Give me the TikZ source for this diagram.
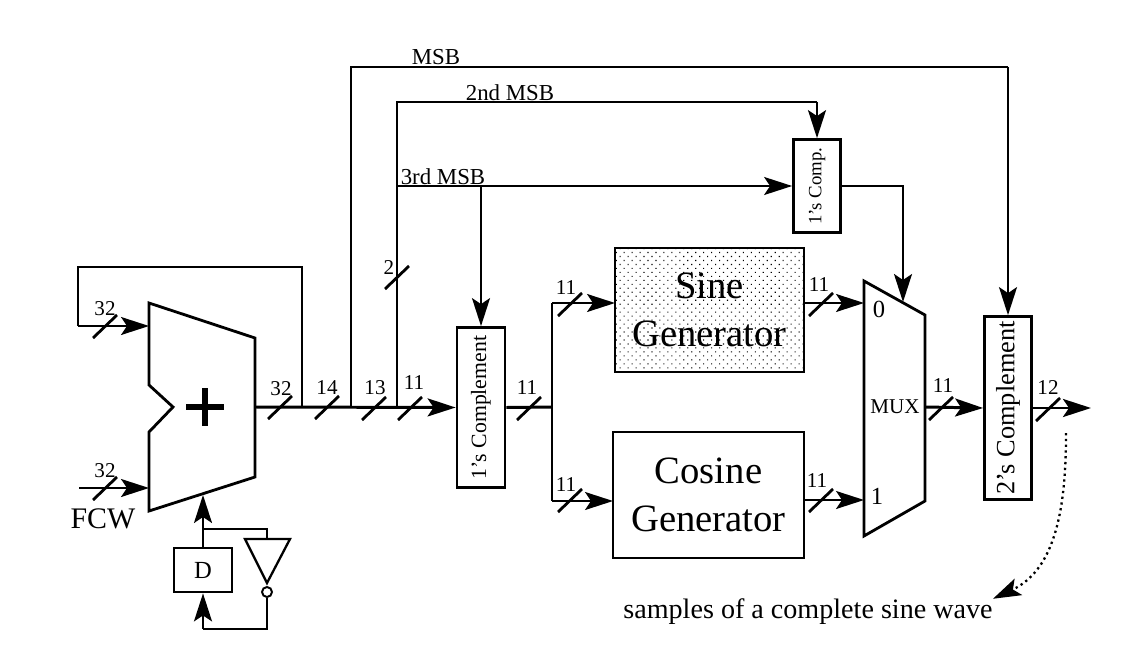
\documentclass[tikz,border=0pt]{standalone}
\usepackage{fontspec}
\setmainfont{Liberation Serif}
\usetikzlibrary{arrows.meta,positioning,patterns.meta}

\begin{document}
\begin{tikzpicture}[
  x=0.02cm, y=-0.02cm,
  box/.style={draw, line width=1.6pt, inner sep=0pt, align=center},
  wire/.style={line width=1.25pt},
  bus/.style={line width=1.7pt},
  width/.style={inner sep=0pt, font=\fontsize{12}{14}\selectfont},
  tag/.style={inner sep=0pt, font=\fontsize{13}{15}\selectfont},
  busmark/.pic={\draw[line width=1.6pt] (-12,12) -- (12,-11);},
  >={Stealth[length=5.6mm, width=3.6mm, inset=1.2mm]}]
\useasboundingbox (0,0) rectangle (1145,662);
% blocks
\draw[box] (149,303) -- (255,338) -- (255,477) -- (149,511) -- (149,432) -- (173,407) -- (149,385) -- cycle;
\draw[box] (864,281) -- (925,315) -- (925,501) -- (864,536) -- cycle;
\draw[line width=3pt] (186,407) -- (224,407);
\draw[line width=3pt] (205,388) -- (205,426);
\node[box, minimum width=0.96cm, minimum height=3.2cm] (onescomp) at (481,407.5) {\fontsize{12.4}{14}\selectfont\rotatebox{90}{1's Complement}};
\node[box, minimum width=0.94cm, minimum height=1.86cm] (onescmp) at (817,186) {\fontsize{10.7}{12}\selectfont\rotatebox{90}{1's Comp.}};
\node[box, minimum width=0.94cm, minimum height=3.66cm] (twoscomp) at (1008,408) {\fontsize{15}{17}\selectfont\rotatebox{90}{2's Complement}};
\node[box, minimum width=3.78cm, minimum height=2.48cm, pattern={Dots[radius=0.45pt, distance=3.2pt, angle=45]}, pattern color=black] (sinebg) at (709.5,310) {};
\node[align=center, inner sep=0pt, font=\fontsize{22}{27}\selectfont] (sine) at (sinebg) {Sine\\Generator};
\node[box, minimum width=3.82cm, minimum height=2.52cm, font=\fontsize{22}{27}\selectfont] (cosine) at (708.5,495) {Cosine\\Generator};
\node[box, minimum width=1.16cm, minimum height=0.88cm, font=\fontsize{14}{16}\selectfont] (dff) at (203,570) {D};
\draw[box, line width=1.3pt] (245,539) -- (290,539) -- (267,583) -- cycle;
\node[draw, circle, line width=1.1pt, minimum size=0.2cm, inner sep=0pt] (bubble) at (267,592) {};
% junctions
\coordinate (addout) at (255,407);
\coordinate (fbtap) at (302,407);
\coordinate (msbtap) at (351,407);
\coordinate (lowtap) at (397,407);
\coordinate (fbin) at (149,326);
\coordinate (fcwtail) at (79,488);
\coordinate (fcwin) at (149,488);
\coordinate (addbot) at (203,495);
\coordinate (dtop) at (203,529);
\coordinate (invtop) at (267,539);
\coordinate (dbot) at (203,629);
\coordinate (thirdtap) at (397,186);
\coordinate (thirdcut) at (481,186);
\coordinate (split) at (552,407);
\coordinate (sinein) at (615,303);
\coordinate (cosin) at (613,501);
\coordinate (muxtop) at (903,302);
\coordinate (mux0) at (864,303);
\coordinate (mux1) at (864,500);
\coordinate (muxout) at (925,407);
\coordinate (outend) at (1091,408);
\coordinate (dottail) at (1066,433);
% connectors
\draw[->, bus] (addout) -- (onescomp.west);
\draw[bus] (fbtap) -- (302,267) -- (78,267) -- (78,326);
\draw[->, wire] (78,326) -- (fbin);
\draw[->, wire] (fcwtail) -- (fcwin);
\draw[->, wire] (dff.north -| addbot) -- (addbot);
\draw[wire] (dtop) -- (267,529) -- (invtop);
\draw[wire] (bubble.south) -- (267,629) -- (dbot);
\draw[->, wire] (dbot) -- (dff.south -| dbot);
\draw[wire] (msbtap) -- (351,67) -- (1008,67);
\draw[->, wire] (1008,67) -- (twoscomp.north);
\draw[wire] (lowtap) -- (397,102) -- (817,102);
\draw[->, wire] (817,102) -- (onescmp.north);
\draw[->, wire] (thirdtap) -- (onescmp.west);
\draw[->, wire] (thirdcut) -- (onescomp.north);
\draw[wire] (onescmp.east) -| (903,260);
\draw[->, wire] (903,260) -- (muxtop);
\draw[bus] (onescomp.east) -- (split);
\draw[wire] (sinein -| split) -- (cosin -| split);
\draw[->, wire] (sinein -| split) -- (sinein);
\draw[->, wire] (cosin -| split) -- (cosin);
\draw[->, wire] (sinebg.east |- mux0) -- (mux0);
\draw[->, wire] (cosine.east |- mux1) -- (mux1);
\draw[->, bus] (muxout) -- (twoscomp.west);
\draw[->, bus] (twoscomp.east) -- (outend);
% bus widths
\pic at (105,326) {busmark};
\pic at (105,488) {busmark};
\pic at (280,407) {busmark};
\pic at (327,407) {busmark};
\pic at (374,408) {busmark};
\pic at (410,408) {busmark};
\pic at (397,277) {busmark};
\pic at (529,408) {busmark};
\pic at (570,304) {busmark};
\pic at (570,500) {busmark};
\pic at (821,304) {busmark};
\pic at (821,500) {busmark};
\pic at (941,408) {busmark};
\pic at (1048,409) {busmark};
\node[width] (w32a) at (105,309) {32};
\node[width] (w32b) at (105,471) {32};
\node[width] (w32c) at (281,389) {32};
\node[width] (w14) at (327,388) {14};
\node[width] (w13) at (375,388) {13};
\node[width] (w11a) at (414,383) {11};
\node[width] (w2) at (389,268) {2};
\node[width] (w11b) at (527,388) {11};
\node[width] (w11c) at (566,288) {11};
\node[width] (w11d) at (566,485) {11};
\node[width] (w11e) at (819,285) {11};
\node[width] (w11f) at (817,481) {11};
\node[width] (w11g) at (943,386) {11};
\node[width] (w12) at (1048,388) {12};
% labels
\node[inner sep=0pt, font=\fontsize{17}{19}\selectfont] (fcw) at (103,519) {FCW};
\node[tag] (msb) at (436,57) {MSB};
\node[tag] (msbb) at (510,93) {2nd MSB};
\node[tag] (msbc) at (443,177) {3rd MSB};
\node[inner sep=0pt, font=\fontsize{12}{14}\selectfont] (muxname) at (895,407) {MUX};
\node[inner sep=0pt, font=\fontsize{14}{16}\selectfont] (mzero) at (879,309) {0};
\node[inner sep=0pt, font=\fontsize{14}{16}\selectfont] (mone) at (877,496) {1};
\node[inner sep=0pt, font=\fontsize{16}{18}\selectfont] (samples) at (808,612) {samples of a complete sine wave};
\draw[->, line width=1.3pt, dotted] (dottail) to[out=-90,in=25] (samples.north east);
\end{tikzpicture}
\end{document}
